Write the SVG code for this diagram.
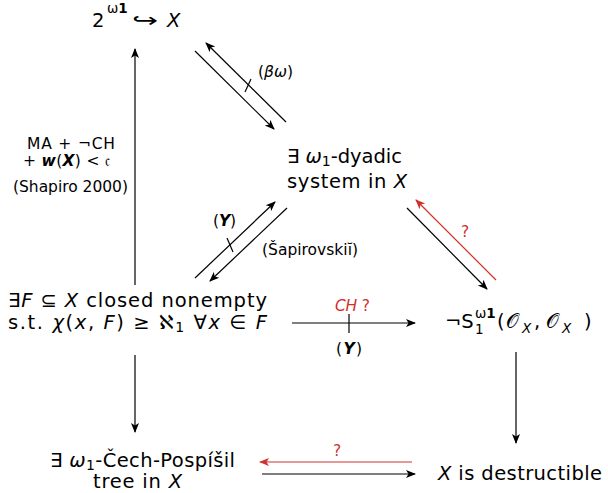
<svg xmlns="http://www.w3.org/2000/svg" width="608" height="493" viewBox="0 0 608 493">
<style>
.t{font-family:"DejaVu Sans","Noto Sans",sans-serif;font-size:19.5px;fill:#000}
.s{font-family:"DejaVu Sans","Noto Sans",sans-serif;font-size:15.5px;fill:#000}
.sm{font-family:"DejaVu Sans","Noto Sans",sans-serif;font-size:13.5px;fill:#000}
.i{font-style:italic}
.b{font-weight:bold}
.red{fill:#d0312d}
.ln{stroke:#000;stroke-width:1.2;fill:none}
.lr{stroke:#d0312d;stroke-width:1.2;fill:none}
</style>
<defs>
<marker id="ab" viewBox="0 0 10 10" refX="9" refY="5" markerWidth="10" markerHeight="10" markerUnits="userSpaceOnUse" orient="auto"><path d="M0,1 L10,5 L0,9 L2.5,5 Z" fill="#000"/></marker>
<marker id="ar" viewBox="0 0 10 10" refX="9" refY="5" markerWidth="10" markerHeight="10" markerUnits="userSpaceOnUse" orient="auto"><path d="M0,1 L10,5 L0,9 L2.5,5 Z" fill="#d0312d"/></marker>
</defs>
<g id="n-top">
<text class="t" x="92" y="27">2</text>
<text class="sm" x="107" y="13">ω<tspan class="b">1</tspan></text>
<text class="t" transform="translate(132,27) scale(1.6,1)">↪</text>
<text class="t i" x="167" y="27">X</text>
</g>
<g id="n-dyadic"><text class="t" x="287" y="163" textLength="115" lengthAdjust="spacing">∃ <tspan class="i">ω</tspan><tspan font-size="14" dy="3">1</tspan><tspan dy="-3">-dyadic</tspan></text><text class="t" x="287" y="188" textLength="120" lengthAdjust="spacing">system in <tspan class="i">X</tspan></text></g>
<g id="n-closed"><text class="t" x="8" y="307" textLength="259" lengthAdjust="spacing">∃<tspan class="i">F</tspan> ⊆ <tspan class="i">X</tspan> closed nonempty</text><text class="t" x="8" y="329" textLength="259" lengthAdjust="spacing">s.t. <tspan class="i">χ</tspan>(<tspan class="i">x</tspan>, <tspan class="i">F</tspan>) ≥ ℵ<tspan font-size="14" dy="3">1</tspan><tspan dy="-3"> ∀</tspan><tspan class="i">x</tspan> ∈ <tspan class="i">F</tspan></text></g>
<g id="n-sel">
<text class="t" x="445" y="328">¬S</text>
<text class="sm" x="475" y="318">ω<tspan class="b">1</tspan></text>
<text class="sm" x="475" y="334">1</text>
<text class="t" x="497" y="328">(</text>
<text class="t" x="506" y="328">𝒪</text>
<text class="sm i" x="522" y="333">X</text>
<text class="t" x="534" y="328">,</text>
<text class="t" x="546" y="328">𝒪</text>
<text class="sm i" x="562" y="333">X</text>
<text class="t" x="584" y="328">)</text>
</g>
<g id="n-tree"><text class="t" x="50" y="467" textLength="185" lengthAdjust="spacing">∃ <tspan class="i">ω</tspan><tspan font-size="14" dy="3">1</tspan><tspan dy="-3">-Čech-Pospíšil</tspan></text><text class="t" x="93" y="488" textLength="89" lengthAdjust="spacing">tree in <tspan class="i">X</tspan></text></g>
<g id="n-destr"><text class="t" x="438" y="480" textLength="164" lengthAdjust="spacing"><tspan class="i">X</tspan> is destructible</text></g>
<g id="connectors">
<path class="ln" d="M135 285V49" marker-end="url(#ab)"/>
<path class="ln" d="M135 355V432" marker-end="url(#ab)"/>
<path class="ln" d="M516 352V443" marker-end="url(#ab)"/>
<path class="ln" d="M195 51L274 129" marker-end="url(#ab)"/>
<path class="ln" d="M286 122L206 43" marker-end="url(#ab)"/>
<path class="ln" d="M245 92L251 79"/>
<path class="ln" d="M195 278L275 202" marker-end="url(#ab)"/>
<path class="ln" d="M287 208L210 281" marker-end="url(#ab)"/>
<path class="ln" d="M227 238L233 252"/>
<path class="ln" d="M407 208L487 289" marker-end="url(#ab)"/>
<path class="lr" d="M496 280L416 200" marker-end="url(#ar)"/>
<path class="ln" d="M292 323H415" marker-end="url(#ab)"/>
<path class="ln" d="M349 314V333"/>
<path class="lr" d="M412 462H260" marker-end="url(#ar)"/>
<path class="ln" d="M262 474H415" marker-end="url(#ab)"/>
</g>
<g id="labels">
<text class="s" x="27" y="149" textLength="88" lengthAdjust="spacing">MA + ¬CH</text>
<text class="s" x="23" y="166" textLength="87" lengthAdjust="spacing">+ <tspan class="i b">w</tspan>(<tspan class="i b">X</tspan>) &lt; 𝔠</text>
<text class="s" x="13" y="192" textLength="115" lengthAdjust="spacing">(Shapiro 2000)</text>
<text class="s" x="258" y="77" textLength="35" lengthAdjust="spacing">(<tspan class="i">βω</tspan>)</text>
<text class="s" x="213" y="226" textLength="23" lengthAdjust="spacing">(<tspan class="i b">Y</tspan>)</text>
<text class="s" x="262" y="255" textLength="96" lengthAdjust="spacing">(Šapirovskiĭ)</text>
<text class="s red" x="461" y="237">?</text>
<text class="s red" x="335" y="311" textLength="35" lengthAdjust="spacing"><tspan class="i">CH</tspan> ?</text>
<text class="s" x="336" y="354" textLength="26" lengthAdjust="spacing">(<tspan class="i b">Y</tspan>)</text>
<text class="s red" x="333" y="456">?</text>
</g>
</svg>
